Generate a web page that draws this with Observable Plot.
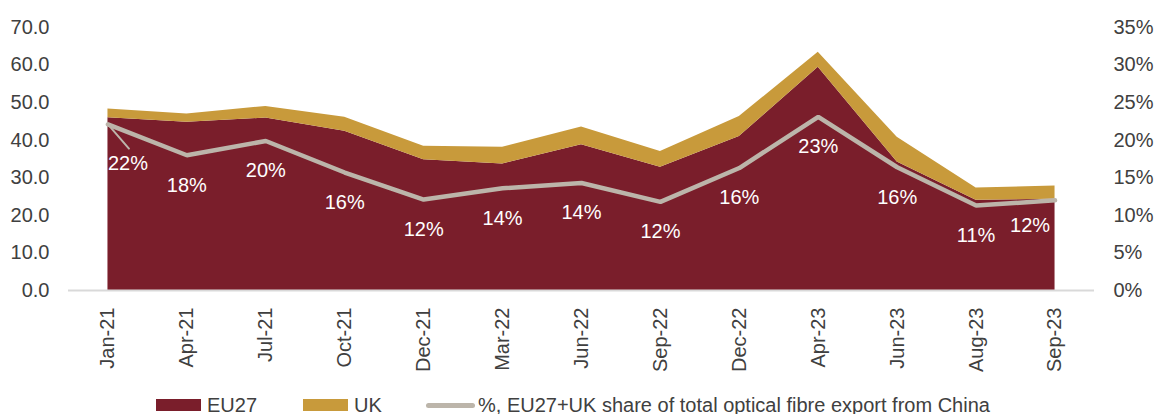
<!DOCTYPE html>
<html>
<head>
<meta charset="utf-8">
<script src="https://cdn.jsdelivr.net/npm/d3@7"></script>
<script src="https://cdn.jsdelivr.net/npm/@observablehq/plot@0.6"></script>
<style>
  html, body { margin: 0; padding: 0; background: #fff; }
  body { width: 1157px; height: 414px; overflow: hidden; font-family: "Liberation Sans", Arial, sans-serif; }
  #legend { position: relative; height: 19px; font-size: 20px; color: #404040; }
  #legend .sw { position: absolute; }
  #legend .lb { position: absolute; top: 0; line-height: 20px; white-space: nowrap; }
</style>
</head>
<body>
<div id="chart"></div>
<div id="legend"></div>
<script>
// ---- data ----
const months = ["Jan-21","Apr-21","Jul-21","Oct-21","Dec-21","Mar-22","Jun-22","Sep-22","Dec-22","Apr-23","Jun-23","Aug-23","Sep-23"];
const eu27  = [46.0, 44.8, 45.9, 42.4, 34.8, 33.7, 38.8, 32.8, 41.0, 59.4, 34.2, 24.0, 24.3];
const uk    = [2.3, 2.2, 3.1, 3.7, 3.6, 4.4, 4.7, 4.2, 5.3, 4.0, 6.6, 3.3, 3.5];
const share = [22.1, 18.0, 19.9, 15.7, 12.1, 13.6, 14.3, 11.8, 16.3, 23.1, 16.4, 11.3, 12.0]; // %
const seriesNames = ["EU27", "UK"];
const shareName = "%, EU27+UK share of total optical fibre export from China";
const leftTicks = [0, 10, 20, 30, 40, 50, 60, 70];
const rightTickLabels = ["0%", "5%", "10%", "15%", "20%", "25%", "30%", "35%"];

// ---- styles ----
const colors = ["#7A1E2B", "#C89A3B"];
const lineColor = "#BCB5AA";
const textColor = "#404040";

// ---- tables ----
const rows = months.flatMap((m, i) => [
  {month: m, series: seriesNames[0], value: eu27[i]},
  {month: m, series: seriesNames[1], value: uk[i]}
]);
const ratio = 70 / 35; // right axis (0–35%) onto left axis (0–70)
const shareRows = months.map((m, i) => ({month: m, share: share[i], y: share[i] * ratio, label: Math.round(share[i]) + "%"}));
const firstRow = shareRows.slice(0, 1);
const lastRow = shareRows.slice(-1);
const midRows = shareRows.slice(1, -1);

const chart = Plot.plot({
  width: 1157,
  height: 395,
  marginTop: 27,
  marginBottom: 105,
  marginLeft: 68,
  marginRight: 63,
  style: {fontFamily: "'Liberation Sans', Arial, sans-serif", fontSize: "20px", color: textColor, background: "#fff"},
  x: {type: "point", domain: months, padding: 0.5, round: false, label: null},
  y: {domain: [0, 70], label: null},
  color: {domain: seriesNames, range: colors},
  marks: [
    Plot.areaY(rows, Plot.stackY({x: "month", y: "value", fill: "series", z: "series", order: seriesNames})),
    Plot.ruleY([0], {stroke: "#D9D9D9", strokeWidth: 2}),
    Plot.line(shareRows, {x: "month", y: "y", stroke: lineColor, strokeWidth: 4.5, strokeLinecap: "round", strokeLinejoin: "miter"}),
    Plot.vector(firstRow, {x: "month", y: "y", length: 32, rotate: 139, anchor: "start", stroke: lineColor, strokeWidth: 2,
      shape: {draw(ctx, l) { ctx.moveTo(0, 0); ctx.lineTo(0, -l); }}}),
    Plot.text(midRows, {x: "month", y: "y", text: "label", dy: 30, fill: "white", fontSize: 20}),
    Plot.text(firstRow, {x: "month", y: "y", text: "label", dx: 20, dy: 39, fill: "white", fontSize: 20}),
    Plot.text(lastRow, {x: "month", y: "y", text: "label", dx: -25, dy: 25, fill: "white", fontSize: 20}),
    Plot.axisX({tickRotate: -90, tickSize: 0, tickPadding: 17, fontSize: 20, fill: textColor, label: null}),
    Plot.axisY({anchor: "left", ticks: leftTicks, tickFormat: d3.format(".1f"), tickSize: 0, tickPadding: 19, fontSize: 20, fill: textColor, label: null}),
    Plot.axisY({anchor: "right", ticks: leftTicks, tickFormat: (d) => rightTickLabels[leftTicks.indexOf(d)], tickSize: 0, tickPadding: 19, fontSize: 20, fill: textColor, label: null})
  ]
});
document.getElementById("chart").appendChild(chart);

// ---- legend ----
const legend = document.getElementById("legend");
const items = [
  {name: seriesNames[0], color: colors[0], kind: "box", left: 156, w: 45, textLeft: 207},
  {name: seriesNames[1], color: colors[1], kind: "box", left: 303, w: 45, textLeft: 354},
  {name: shareName, color: lineColor, kind: "line", left: 426, w: 49, textLeft: 478}
];
for (const it of items) {
  const sw = document.createElement("div");
  sw.className = "sw";
  sw.style.left = it.left + "px";
  sw.style.width = it.w + "px";
  sw.style.background = it.color;
  if (it.kind === "box") { sw.style.top = "4px"; sw.style.height = "12px"; }
  else { sw.style.top = "8px"; sw.style.height = "5px"; sw.style.borderRadius = "3px"; }
  legend.appendChild(sw);
  const lb = document.createElement("div");
  lb.className = "lb";
  lb.style.left = it.textLeft + "px";
  lb.textContent = it.name;
  legend.appendChild(lb);
}
</script>
</body>
</html>
